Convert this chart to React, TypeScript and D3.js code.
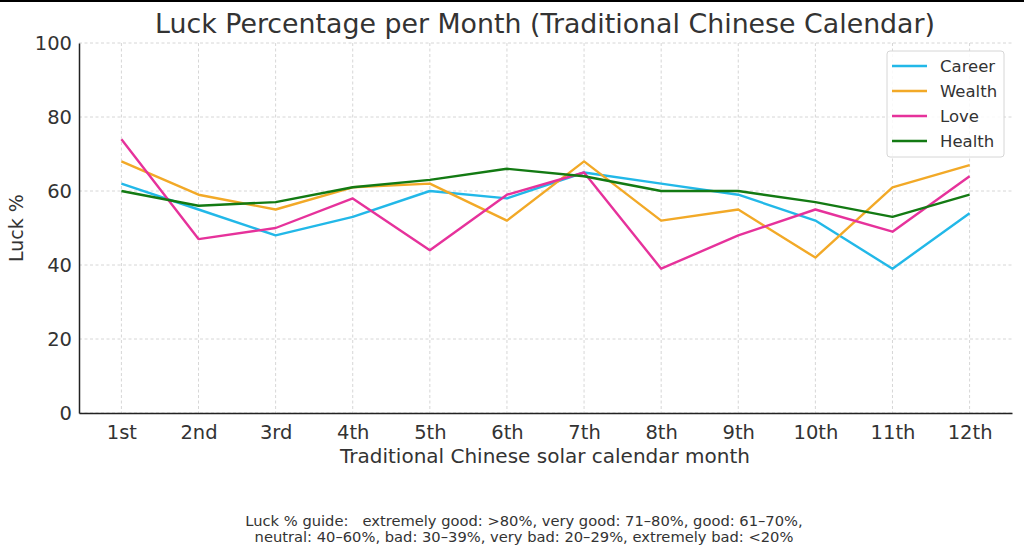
import React, { useEffect, useRef } from 'react';
import * as d3 from 'd3';

const months = ['1st', '2nd', '3rd', '4th', '5th', '6th', '7th', '8th', '9th', '10th', '11th', '12th'];
const career = [62, 55, 48, 53, 60, 58, 65, 62, 59, 52, 39, 54];
const wealth = [68, 59, 55, 61, 62, 52, 68, 52, 55, 42, 61, 67];
const love = [74, 47, 50, 58, 44, 59, 65, 39, 48, 55, 49, 64];
const health = [60, 56, 57, 61, 63, 66, 64, 60, 60, 57, 53, 59];
const yTicks = [0, 20, 40, 60, 80, 100];

const seriesNames = ['Career', 'Wealth', 'Love', 'Health'];
const seriesColors = ['#22b8e8', '#f2a927', '#e6329b', '#137a13'];

const W = 1024;
const H = 555;
const FONT = 'DejaVu Sans, sans-serif';
const TEXT = '#333333';

export default function App() {
  const ref = useRef<SVGSVGElement>(null);

  useEffect(() => {
    const svg = d3.select(ref.current);
    svg.selectAll('*').remove();

    const left = 79, right = 1012, top = 43, bottom = 413;
    const x = d3.scaleLinear().domain([-0.55, 11.55]).range([left, right]);
    const y = d3.scaleLinear().domain([0, 100]).range([bottom, top]);

    svg.append('rect').attr('width', W).attr('height', H).attr('fill', '#fff');
    svg.append('line').attr('x1', 0).attr('x2', W).attr('y1', 1).attr('y2', 1)
      .attr('stroke', '#000').attr('stroke-width', 2);

    // grid
    const grid = svg.append('g').attr('stroke', '#cccccc').attr('stroke-width', 0.8)
      .attr('stroke-dasharray', '3,2.5');
    months.forEach((_, i) => {
      grid.append('line').attr('x1', x(i)).attr('x2', x(i)).attr('y1', top).attr('y2', bottom);
    });
    yTicks.forEach(t => {
      grid.append('line').attr('x1', left).attr('x2', right).attr('y1', y(t)).attr('y2', y(t));
    });

    // axes
    const xAxis = svg.append('g').attr('transform', `translate(0,${bottom})`)
      .call(d3.axisBottom(x).tickValues(d3.range(12)).tickFormat(i => months[+i]).tickSize(0).tickPadding(7));
    const yAxis = svg.append('g').attr('transform', `translate(${left},0)`)
      .call(d3.axisLeft(y).tickValues(yTicks).tickSize(0).tickPadding(7));
    [xAxis, yAxis].forEach(a => {
      a.select('.domain').attr('stroke', '#222').attr('stroke-width', 1.5);
      a.selectAll('text').attr('font-family', FONT).attr('font-size', 19.5).attr('fill', TEXT);
    });
    xAxis.selectAll('text').attr('dy', '0.95em');
    yAxis.selectAll('text').attr('dy', '0.35em');

    // lines
    const data = [career, wealth, love, health];
    const line = d3.line<number>().x((_, i) => x(i)).y(d => y(d));
    data.forEach((vals, k) => {
      svg.append('path').datum(vals).attr('d', line).attr('fill', 'none')
        .attr('stroke', seriesColors[k]).attr('stroke-width', 2.4).attr('stroke-linejoin', 'round');
    });

    // legend
    const lg = svg.append('g');
    lg.append('rect').attr('x', 887).attr('y', 51).attr('width', 117).attr('height', 106).attr('rx', 3)
      .attr('fill', '#fff').attr('fill-opacity', 0.85).attr('stroke', '#d6d6d6');
    seriesNames.forEach((name, k) => {
      const yy = 66 + k * 25;
      lg.append('line').attr('x1', 892).attr('x2', 927).attr('y1', yy).attr('y2', yy)
        .attr('stroke', seriesColors[k]).attr('stroke-width', 2.4);
      lg.append('text').attr('x', 940).attr('y', yy).attr('dy', '0.35em').text(name)
        .attr('font-family', FONT).attr('font-size', 16.5).attr('fill', TEXT);
    });

    // titles
    svg.append('text').attr('x', 545).attr('y', 24).attr('dy', '0.35em').attr('text-anchor', 'middle')
      .attr('font-family', FONT).attr('font-size', 26.8).attr('fill', TEXT)
      .text('Luck Percentage per Month (Traditional Chinese Calendar)');
    svg.append('text').attr('x', 545).attr('y', 456).attr('dy', '0.35em').attr('text-anchor', 'middle')
      .attr('font-family', FONT).attr('font-size', 20).attr('fill', TEXT)
      .text('Traditional Chinese solar calendar month');
    svg.append('text').attr('transform', `translate(16,228) rotate(-90)`).attr('dy', '0.35em')
      .attr('text-anchor', 'middle').attr('font-family', FONT).attr('font-size', 19).attr('fill', TEXT)
      .text('Luck %');

    const foot = ['Luck % guide:   extremely good: >80%, very good: 71–80%, good: 61–70%,',
      'neutral: 40–60%, bad: 30–39%, very bad: 20–29%, extremely bad: <20%'];
    foot.forEach((t, i) => {
      svg.append('text').attr('x', 524).attr('y', 521 + i * 16).attr('dy', '0.35em')
        .attr('text-anchor', 'middle').attr('font-family', FONT).attr('font-size', 14.7).attr('fill', TEXT)
        .attr('xml:space', 'preserve').style('white-space', 'pre').text(t);
    });
  }, []);

  return (
    <div style={{ position: 'fixed', left: 0, top: 0 }}>
      <svg ref={ref} width={W} height={H} style={{ display: 'block' }} />
    </div>
  );
}
